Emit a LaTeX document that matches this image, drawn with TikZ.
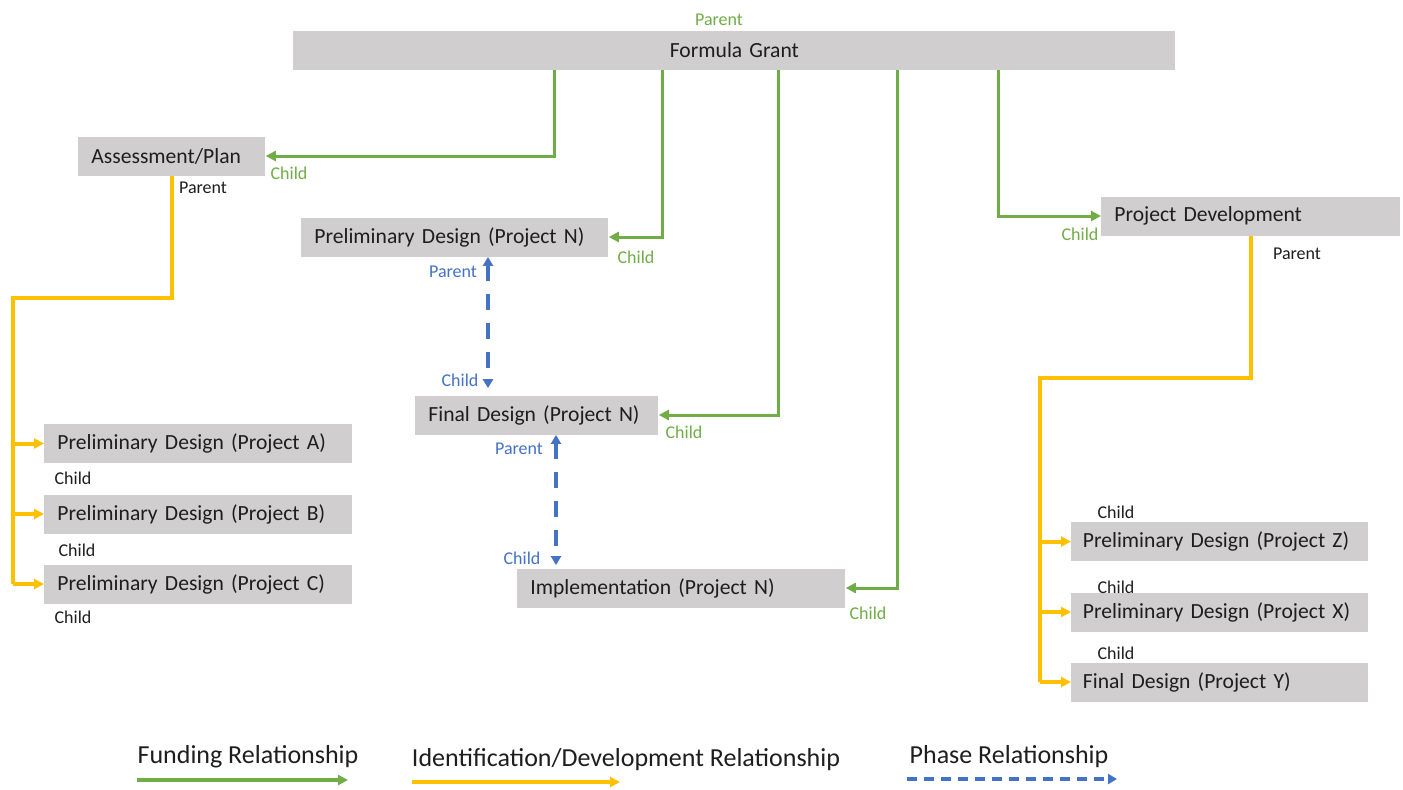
\documentclass[tikz,border=0pt]{standalone}
\usepackage{fontspec}
\setmainfont{Carlito}
\usetikzlibrary{arrows.meta,positioning,calc}
\definecolor{fundgreen}{RGB}{112,173,71}
\definecolor{identgold}{RGB}{255,192,0}
\definecolor{phaseblue}{RGB}{68,114,196}
\definecolor{boxgray}{RGB}{208,206,206}
\definecolor{ink}{RGB}{30,30,30}
\tikzset{
  box/.style={fill=boxgray,text=ink,font=\fontsize{10.8}{13}\selectfont,
    minimum height=19.5pt,inner xsep=6.5pt,inner ysep=0pt,anchor=west,
    align=left,text width=#1},
  lbl/.style={font=\fontsize{9}{10}\selectfont,text=#1,inner sep=0pt},
  lbl/.default=ink,
  legtext/.style={font=\fontsize{13}{15}\selectfont,text=ink,inner sep=0pt},
  fund/.style={-{Triangle[length=5pt,width=5pt]},draw=fundgreen,line width=1.5pt},
  ident/.style={-{Triangle[length=5pt,width=5pt]},draw=identgold,line width=2pt},
  phase/.style={{Triangle[length=4.5pt,width=5pt]}-{Triangle[length=4.5pt,width=5pt]},
    draw=phaseblue,line width=2pt,dash pattern=on 8pt off 6.5pt},
}
\begin{document}
\begin{tikzpicture}[x=0.5pt,y=-0.5pt]
  \useasboundingbox[fill=white] (0,0) rectangle (1403,789);
  % boxes
  \node[box=428pt,align=center] (grant) at (293,50.5) {Formula Grant};
  \node[box=80.5pt] (assess) at (78,156) {Assessment/Plan};
  \node[box=140.5pt] (prelN) at (301,237) {Preliminary Design (Project N)};
  \node[box=108.5pt] (finN) at (415,415) {Final Design (Project N)};
  \node[box=151pt] (impl) at (517,588) {Implementation (Project N)};
  \node[box=136.5pt] (pdev) at (1101,216) {Project Development};
  \foreach \n/\y/\p in {pa/443.5/A,pb/514/B,pc/584/C}
    \node[box=141pt] (\n) at (44,\y) {Preliminary Design (Project \p)};
  \node[box=137pt,inner xsep=5.75pt] (pz) at (1071,541.5) {Preliminary Design (Project Z)};
  \node[box=137pt,inner xsep=5.75pt] (px) at (1071,612) {Preliminary Design (Project X)};
  \node[box=137pt,inner xsep=5.75pt] (py) at (1071,682) {Final Design (Project Y)};
  % funding
  \draw[fund] ([xshift=130.5pt]grant.south west) |- (assess.east);
  \draw[fund] ([xshift=184.5pt]grant.south west) |- (prelN.east);
  \draw[fund] ([xshift=242.5pt]grant.south west) |- (finN.east);
  \draw[fund] ([xshift=302pt]grant.south west) |- (impl.east);
  \draw[fund] ([xshift=352.5pt]grant.south west) |- (pdev.west);
  % identification / development
  \coordinate (lbus) at (13,298);
  \coordinate (rbus) at (1040,378);
  \draw[ident,-] (assess.south) |- (lbus) -- (lbus |- pc.west);
  \foreach \n in {pa,pb,pc} \draw[ident] (lbus |- \n.west) -- (\n.west);
  \draw[ident,-] (pdev.south) |- (rbus) -- (rbus |- py.west);
  \foreach \n in {pz,px,py} \draw[ident] (rbus |- \n.west) -- (\n.west);
  % phases
  \coordinate (ph1) at ([xshift=93.5pt]prelN.south west);
  \coordinate (ph2) at ([xshift=70.5pt]finN.south west);
  \draw[phase,shorten >=3.5pt] (ph1) -- (ph1 |- finN.north);
  \draw[phase,shorten >=1.5pt] (ph2) -- (ph2 |- impl.north);
  % labels
  \node[lbl=fundgreen] (l1) at (719,20) {Parent};
  \node[lbl=fundgreen] (l2) at (289,173) {Child};
  \node[lbl=fundgreen] (l3) at (636,257) {Child};
  \node[lbl=fundgreen] (l4) at (684,432) {Child};
  \node[lbl=fundgreen] (l5) at (868,613) {Child};
  \node[lbl=fundgreen] (l6) at (1080,234) {Child};
  \node[lbl] (l7) at (203,188) {Parent};
  \node[lbl] (l8) at (1297,254) {Parent};
  \node[lbl] (l9) at (73,478) {Child};
  \node[lbl] (l10) at (77,550) {Child};
  \node[lbl] (l11) at (73,617) {Child};
  \node[lbl] (l12) at (1116,512) {Child};
  \node[lbl] (l13) at (1116,587) {Child};
  \node[lbl] (l14) at (1116,653) {Child};
  \node[lbl=phaseblue] (l15) at (453,272) {Parent};
  \node[lbl=phaseblue] (l16) at (460,380) {Child};
  \node[lbl=phaseblue] (l17) at (519,449) {Parent};
  \node[lbl=phaseblue] (l18) at (522,558) {Child};
  % legend
  \node[legtext] (kfund) at (248,757) {Funding Relationship};
  \node[legtext] (kident) at (626,760) {Identification/Development Relationship};
  \node[legtext] (kphase) at (1009,757) {Phase Relationship};
  \coordinate (f0) at (137,780); \coordinate (f1) at (348,780);
  \coordinate (i0) at (412,782); \coordinate (i1) at (620,782);
  \coordinate (p0) at (907,779); \coordinate (p1) at (1117,779);
  \draw[fund,line width=2pt] (f0) -- (f1);
  \draw[ident,line width=2.2pt] (i0) -- (i1);
  \draw[phaseblue,line width=2pt,dash pattern=on 5pt off 3.5pt,
    -{Triangle[length=4.5pt,width=5pt]}] (p0) -- (p1);
\end{tikzpicture}
\end{document}
